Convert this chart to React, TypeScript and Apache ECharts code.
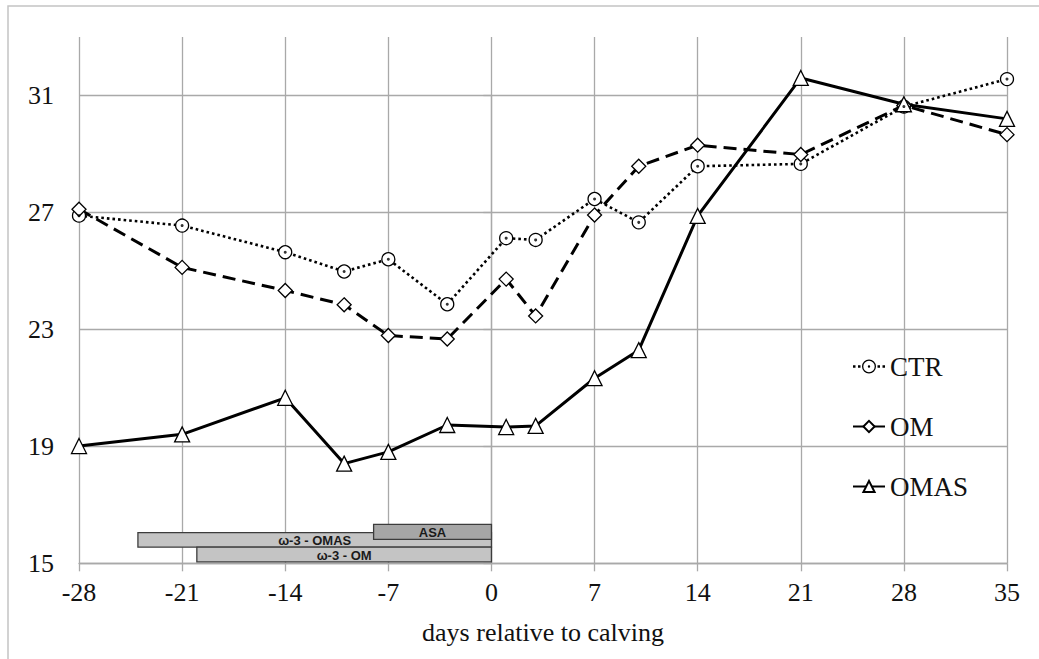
import React, { useEffect, useRef } from "react";
import * as echarts from "echarts";

// Sampling days relative to calving
const days = [-28, -21, -14, -10, -7, -3, 1, 3, 7, 10, 14, 21, 28, 35];

// Group means
const ctrValues = [26.89, 26.55, 25.64, 24.98, 25.4, 23.86, 26.12, 26.06, 27.46, 26.66, 28.58, 28.66, 30.62, 31.56];
const omValues = [27.11, 25.12, 24.33, 23.84, 22.79, 22.67, 24.72, 23.46, 26.91, 28.58, 29.3, 28.98, 30.66, 29.66];
const omasValues = [19.01, 19.41, 20.66, 18.41, 18.81, 19.73, 19.66, 19.7, 21.33, 22.29, 26.88, 31.6, 30.7, 30.2];

// Supplementation periods (drawn as bars on the value scale)
const periodNames = ["ω-3 - OMAS", "ω-3 - OM", "ASA"];
const periodStart = [-24, -20, -8];
const periodEnd = [0, 0, 0];
const periodLow = [15.55, 15.05, 15.82];
const periodHigh = [16.05, 15.55, 16.33];
const periodFills = ["#c4c4c4", "#c4c4c4", "#a6a6a6"];

const serif = "Liberation Serif, DejaVu Serif, serif";
const gridColor = "#a9a9a9";

const ctrLegendIcon =
  "path://M0,5.8h2.5v2.5h-2.5z M5,5.8h2.5v2.5h-2.5z " +
  "M16,0 A7,7 0 1,1 16,14 A7,7 0 1,1 16,0z " +
  "M16,1.3 A5.7,5.7 0 1,0 16,12.7 A5.7,5.7 0 1,0 16,1.3z " +
  "M16,5.8 A1.2,1.2 0 1,1 16,8.2 A1.2,1.2 0 1,1 16,5.8z " +
  "M24.5,5.8h2.5v2.5h-2.5z M29.5,5.8h2.5v2.5h-2.5z";

const pairs = (vals: number[]) => days.map((d, i) => [d, vals[i]]);

export default function App() {
  const ref = useRef<HTMLDivElement>(null);

  useEffect(() => {
    if (!ref.current) return;
    const chart = echarts.init(ref.current, null, { renderer: "svg" });

    const gridLeft = 79;
    const gridRight = 32;
    const gridTop = 37;
    const gridBottom = 95.7;
    const plotH = 659 - gridTop - gridBottom;
    const unit = plotH / 18; // y range 15..33
    const labelGridTop = gridTop + 2 * unit; // y range 15..31

    const lineGrey = { color: gridColor, width: 1.3 };

    const option: any = {
      animation: false,
      backgroundColor: "#ffffff",
      textStyle: { fontFamily: serif },
      graphic: [
        {
          type: "rect",
          silent: true,
          z: -10,
          shape: { x: 8, y: 6, width: 1200, height: 800 },
          style: { fill: "none", stroke: "#c4c4c4", lineWidth: 1.5 },
        },
      ],
      grid: [
        { left: gridLeft, right: gridRight, top: gridTop, bottom: gridBottom },
        { left: gridLeft, right: gridRight, top: labelGridTop, bottom: gridBottom },
      ],
      legend: {
        orient: "vertical",
        left: 847,
        top: 348,
        itemWidth: 32,
        itemHeight: 14,
        itemGap: 33,
        textStyle: { fontSize: 27, fontFamily: serif, color: "#111" },
        data: [
          { name: "CTR", icon: ctrLegendIcon, itemStyle: { color: "#000", borderWidth: 0 } },
          { name: "OM" },
          { name: "OMAS" },
        ],
      },
      xAxis: [
        {
          gridIndex: 0,
          type: "value",
          min: -28,
          max: 35,
          interval: 7,
          axisLine: { show: true, lineStyle: lineGrey },
          axisTick: { show: true, length: 8, lineStyle: lineGrey },
          axisLabel: { fontSize: 26, fontFamily: serif, color: "#111", margin: 16 },
          splitLine: { show: true, lineStyle: lineGrey },
          name: "days relative to calving",
          nameLocation: "middle",
          nameGap: 56,
          nameTextStyle: { fontSize: 26, fontFamily: serif, color: "#111" },
        },
        { gridIndex: 1, type: "value", min: -28, max: 35, show: false },
      ],
      yAxis: [
        { gridIndex: 0, type: "value", min: 15, max: 33, show: false },
        {
          gridIndex: 1,
          type: "value",
          min: 15,
          max: 31,
          interval: 4,
          axisLine: { show: true, lineStyle: lineGrey },
          axisTick: { show: true, length: 8, lineStyle: lineGrey },
          axisLabel: { fontSize: 26, fontFamily: serif, color: "#111", margin: 25 },
          splitLine: { show: true, lineStyle: lineGrey },
        },
      ],
      series: [
        {
          type: "custom",
          name: "periods",
          xAxisIndex: 0,
          yAxisIndex: 0,
          silent: true,
          clip: false,
          z: 1,
          encode: { x: [0, 1], y: [2, 3] },
          data: periodNames.map((_, i) => [periodStart[i], periodEnd[i], periodLow[i], periodHigh[i]]),
          renderItem: (params: any, api: any) => {
            const i = params.dataIndex;
            const tl = api.coord([api.value(0), api.value(3)]);
            const br = api.coord([api.value(1), api.value(2)]);
            return {
              type: "group",
              children: [
                {
                  type: "rect",
                  shape: { x: tl[0], y: tl[1], width: br[0] - tl[0], height: br[1] - tl[1] },
                  style: { fill: periodFills[i], stroke: "#3c3c3c", lineWidth: 1.3 },
                },
                {
                  type: "text",
                  x: (tl[0] + br[0]) / 2,
                  y: (tl[1] + br[1]) / 2 + 1,
                  style: {
                    text: periodNames[i],
                    fill: "#1a1a1a",
                    fontSize: 13,
                    fontWeight: "bold",
                    fontFamily: "Liberation Sans, Arial, sans-serif",
                    align: "center",
                    verticalAlign: "middle",
                  },
                },
              ],
            };
          },
        },
        {
          type: "line",
          name: "CTR",
          xAxisIndex: 0,
          yAxisIndex: 0,
          data: pairs(ctrValues),
          symbol: "circle",
          symbolSize: 13,
          z: 3,
          lineStyle: { color: "#000", width: 2.6, type: [2.6, 3] },
          itemStyle: { color: "#fff", borderColor: "#000", borderWidth: 1.3 },
        },
        {
          type: "scatter",
          name: "CTR centre",
          xAxisIndex: 0,
          yAxisIndex: 0,
          data: pairs(ctrValues),
          symbol: "circle",
          symbolSize: 3,
          silent: true,
          z: 4,
          itemStyle: { color: "#000" },
        },
        {
          type: "line",
          name: "OM",
          xAxisIndex: 0,
          yAxisIndex: 0,
          data: pairs(omValues),
          symbol: "diamond",
          symbolSize: 14,
          z: 3,
          lineStyle: { color: "#000", width: 3, type: [13, 7] },
          itemStyle: { color: "#fff", borderColor: "#000", borderWidth: 1.3 },
        },
        {
          type: "line",
          name: "OMAS",
          xAxisIndex: 0,
          yAxisIndex: 0,
          data: pairs(omasValues),
          symbol: "triangle",
          symbolSize: 15,
          z: 3,
          lineStyle: { color: "#000", width: 3 },
          itemStyle: { color: "#fff", borderColor: "#000", borderWidth: 1.3 },
        },
      ],
    };

    chart.setOption(option);
    return () => chart.dispose();
  }, []);

  return (
    <div
      ref={ref}
      style={{ position: "absolute", left: 0, top: 0, width: 1039, height: 659, background: "#fff" }}
    />
  );
}
